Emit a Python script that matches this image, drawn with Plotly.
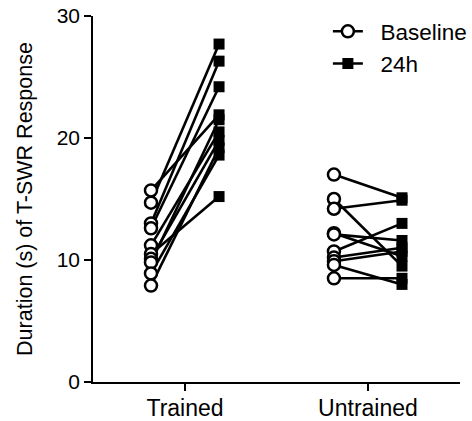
import plotly.graph_objects as go

groups = ["Trained", "Untrained"]
trained_baseline = [15.7, 14.7, 13.0, 12.6, 11.2, 10.5, 10.1, 9.8, 8.9, 7.9]
trained_24h = [21.9, 27.7, 26.3, 24.2, 20.5, 15.2, 19.8, 21.5, 18.6, 19.2]
untrained_baseline = [17.0, 15.0, 14.2, 12.2, 12.1, 10.7, 10.2, 9.9, 9.6, 8.5]
untrained_24h = [15.1, 9.5, 14.9, 10.3, 11.6, 13.0, 11.0, 10.7, 8.0, 8.5]
y_ticks = [0, 10, 20, 30]

OFF = 0.186
FONT = "Liberation Sans, Arial, sans-serif"

fig = go.Figure()

pairs = [(trained_baseline, trained_24h), (untrained_baseline, untrained_24h)]
lx, ly, bx, by, sx, sy = [], [], [], [], [], []
for gi, (b, a) in enumerate(pairs):
    for v0, v1 in zip(b, a):
        lx += [gi - OFF, gi + OFF, None]
        ly += [v0, v1, None]
        bx.append(gi - OFF); by.append(v0)
        sx.append(gi + OFF); sy.append(v1)

fig.add_trace(go.Scatter(x=lx, y=ly, mode="lines", line=dict(color="black", width=2.6),
                         showlegend=False, hoverinfo="skip"))
fig.add_trace(go.Scatter(x=bx, y=by, mode="markers", showlegend=False,
                         marker=dict(symbol="circle", size=12, color="white",
                                     line=dict(color="black", width=2.5))))
fig.add_trace(go.Scatter(x=sx, y=sy, mode="markers", showlegend=False,
                         marker=dict(symbol="square", size=11, color="black",
                                     line=dict(color="black", width=0))))
# legend entries
fig.add_trace(go.Scatter(x=[None], y=[None], mode="lines+markers", name="\u00a0\u00a0Baseline",
                         line=dict(color="black", width=2.6),
                         marker=dict(symbol="circle", size=12, color="white",
                                     line=dict(color="black", width=2.5))))
fig.add_trace(go.Scatter(x=[None], y=[None], mode="lines+markers", name="\u00a0\u00a024h",
                         line=dict(color="black", width=2.6),
                         marker=dict(symbol="square", size=11, color="black")))

fig.update_layout(
    width=472, height=421,
    margin=dict(l=93, r=12, t=16, b=39, autoexpand=False),
    paper_bgcolor="white", plot_bgcolor="white",
    font=dict(family=FONT, color="black", size=20),
    showlegend=True,
    legend=dict(x=0.640, y=1.016, xanchor="left", yanchor="top",
                font=dict(size=22.5, color="black"), bgcolor="rgba(0,0,0,0)",
                tracegroupgap=0, itemwidth=30),
    xaxis=dict(range=[-0.503, 1.503], tickvals=[0, 1], ticktext=groups,
               showgrid=False, zeroline=False, showline=True, linecolor="black",
               linewidth=1.5, ticks="outside", ticklen=7, tickwidth=1.5,
               tickcolor="black", tickfont=dict(size=23), ticklabelstandoff=-2),
    yaxis=dict(range=[0, 30], tickvals=y_ticks, showgrid=False, zeroline=False,
               showline=True, linecolor="black", linewidth=1.5, ticks="outside",
               ticklen=7, tickwidth=1.5, tickcolor="black", tickfont=dict(size=21),
               title=dict(text="Duration (s) of T-SWR Response", font=dict(size=21.5),
                          standoff=18)),
)
fig.add_shape(type="line", xref="paper", yref="y", x0=-7/367, x1=0, y0=0, y1=0,
              line=dict(color="black", width=1.5))

fig.write_html("out.html", config={"displayModeBar": False})

# remove the default page margin so the figure sits at the window's top-left corner
with open("out.html", "r", encoding="utf-8") as f:
    html = f.read()
html = html.replace("<head>", "<head><style>html,body{margin:0;padding:0;overflow:hidden;}</style>", 1)
with open("out.html", "w", encoding="utf-8") as f:
    f.write(html)
